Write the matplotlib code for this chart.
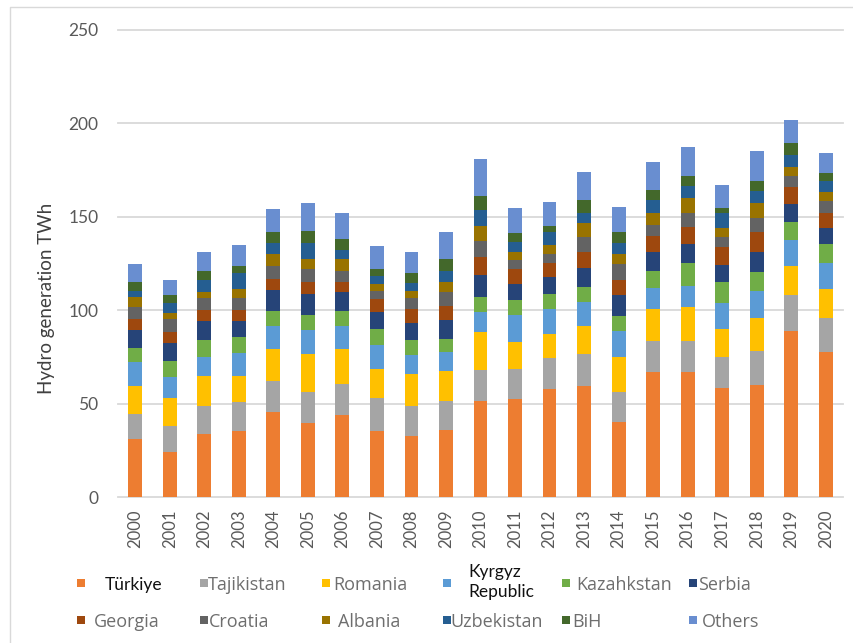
import matplotlib
matplotlib.use("Agg")
import matplotlib.pyplot as plt
import numpy as np
from matplotlib.patches import Rectangle
from matplotlib.lines import Line2D

# Hydro generation by country, TWh (stacked from the bottom up)
years = [str(y) for y in range(2000, 2021)]

turkiye    = [30.9, 24.1, 33.7, 35.4, 45.7, 39.5, 43.9, 35.4, 32.8, 35.9, 51.6,
              52.3, 57.7, 59.5, 40.4, 66.8, 66.8, 58.2, 60.0, 88.9, 77.8]
tajikistan = [13.6, 13.9, 15.0, 15.6, 16.4, 16.6, 16.6, 17.5, 16.1, 15.7, 16.4,
              16.3, 16.9, 16.9, 15.7, 16.9, 16.8, 16.6, 18.2, 19.0, 17.9]
romania    = [15.1, 15.0, 16.3, 14.0, 17.0, 20.5, 18.8, 15.8, 17.2, 15.9, 20.2,
              14.6, 12.5, 15.2, 19.1, 16.8, 18.3, 15.0, 17.8, 15.9, 15.7]
kyrgyz     = [12.5, 11.5, 10.2, 12.0, 12.5, 12.8, 12.3, 12.7, 9.8, 10.3, 11.1,
              14.3, 13.8, 13.0, 13.4, 11.2, 11.2, 14.3, 14.3, 13.9, 14.1]
kazakhstan = [7.9, 8.3, 8.9, 8.5, 8.0, 8.1, 8.0, 8.6, 8.2, 6.7, 8.0,
              8.0, 7.8, 8.0, 8.3, 9.3, 12.1, 11.2, 10.4, 9.5, 9.8]
serbia     = [9.4, 9.9, 10.2, 8.8, 11.3, 11.1, 10.4, 9.3, 9.3, 10.3, 11.6,
              8.4, 9.3, 9.9, 11.0, 9.9, 10.3, 9.0, 10.2, 9.6, 8.9]
georgia    = [5.9, 5.5, 5.9, 5.9, 5.7, 6.4, 5.3, 6.8, 7.1, 7.5, 9.8,
              8.1, 7.2, 8.6, 8.0, 8.9, 9.3, 9.8, 10.7, 9.4, 8.1]
croatia    = [6.6, 7.0, 6.2, 6.2, 7.3, 7.1, 5.9, 4.4, 5.9, 7.3, 8.6,
              4.9, 5.0, 8.0, 8.9, 5.9, 7.1, 5.0, 7.7, 5.4, 5.9]
albania    = [4.9, 3.5, 3.6, 4.8, 6.3, 5.4, 6.1, 3.4, 3.9, 5.4, 7.9,
              4.5, 4.8, 7.5, 5.4, 6.2, 8.1, 4.8, 8.3, 4.8, 5.3]
uzbekistan = [3.7, 5.4, 6.2, 8.6, 5.7, 8.7, 5.0, 4.5, 4.5, 6.2, 8.5,
              5.3, 6.6, 5.7, 5.7, 7.2, 6.6, 8.0, 6.3, 6.7, 5.4]
bih        = [4.5, 4.1, 5.0, 4.1, 5.7, 6.3, 5.7, 3.7, 5.0, 6.3, 7.7,
              4.5, 3.6, 6.8, 5.7, 5.0, 5.5, 3.0, 5.5, 6.3, 4.5]
others     = [9.6, 7.7, 9.7, 11.1, 12.5, 14.8, 14.3, 12.3, 11.6, 14.1, 19.6,
              13.4, 12.6, 15.1, 13.9, 15.5, 15.0, 12.2, 15.9, 12.5, 10.7]

series = [turkiye, tajikistan, romania, kyrgyz, kazakhstan, serbia,
          georgia, croatia, albania, uzbekistan, bih, others]
names = ["Türkiye", "Tajikistan", "Romania", "Kyrgyz\nRepublic", "Kazahkstan", "Serbia",
         "Georgia", "Croatia", "Albania", "Uzbekistan", "BiH", "Others"]
colors = ["#ED7D31", "#A5A5A5", "#FFC000", "#5B9BD5", "#70AD47", "#264478",
          "#9E480E", "#636363", "#997300", "#255E91", "#43682B", "#698ED0"]

W, H = 854, 643
FONT = "Lato"
GRAY = "#595959"

fig = plt.figure(figsize=(W / 100, H / 100), dpi=100)
ax = fig.add_axes([118 / W, 1 - 497 / H, 725 / W, 467 / H])

x = np.arange(len(years))
bottom = np.zeros(len(years))
for vals, col in zip(series, colors):
    ax.bar(x, vals, 0.4, bottom=bottom, color=col, zorder=3)
    bottom += np.array(vals)

ax.set_xlim(-0.5, len(years) - 0.5)
ax.set_ylim(0, 250)
ax.set_yticks(range(0, 251, 50))
ax.set_xticks(x)
ax.set_xticklabels(years, rotation=90, fontsize=12, color=GRAY, family=FONT)
for lab in ax.get_yticklabels():
    lab.set_fontsize(12.5)
    lab.set_color(GRAY)
    lab.set_family(FONT)
ax.tick_params(axis="y", length=0, pad=14)
ax.tick_params(axis="x", length=0, pad=9)
ax.yaxis.grid(True, color="#d9d9d9", linewidth=1.3, zorder=0)
for gl in ax.get_ygridlines():
    gl.set_clip_on(False)
for s in ax.spines.values():
    s.set_visible(False)

fig.text(47 / W, 1 - 298 / H, "Hydro generation TWh", rotation=90,
         ha="center", va="center", fontsize=13.5, color="#404040", family=FONT)

# outer frame (left and top edges)
fig.add_artist(Line2D([10 / W, 10 / W, 1], [0, 1 - 7 / H, 1 - 7 / H],
                      transform=fig.transFigure, color="#d9d9d9", linewidth=1))

# legend, two rows of six entries
marker_x = [77, 200, 322, 443, 562, 689]
text_x = [[105, 208, 333, 468, 576, 698],
          [94, 209, 338, 450, 572, 702]]
row_y = [583, 620]
for i, (name, col) in enumerate(zip(names, colors)):
    r, c = divmod(i, 6)
    y = row_y[r]
    fig.add_artist(Rectangle((marker_x[c] / W, 1 - (y + 4) / H), 8 / W, 8 / H,
                             transform=fig.transFigure, color=col, linewidth=0))
    dark = name in ("Türkiye", "Kyrgyz\nRepublic")
    if dark:
        fig.text(text_x[r][c] / W, 1 - (y + (-1 if c == 3 else 2)) / H, name,
                 ha="left", va="center", fontsize=12.5, color="#111111",
                 family=FONT, linespacing=1.25)
    else:
        fig.text(text_x[r][c] / W, 1 - (y + 2) / H, name,
                 ha="left", va="center", fontsize=13, color="#6e6e6e",
                 family="Open Sans")

fig.savefig("out.png", dpi=100)
